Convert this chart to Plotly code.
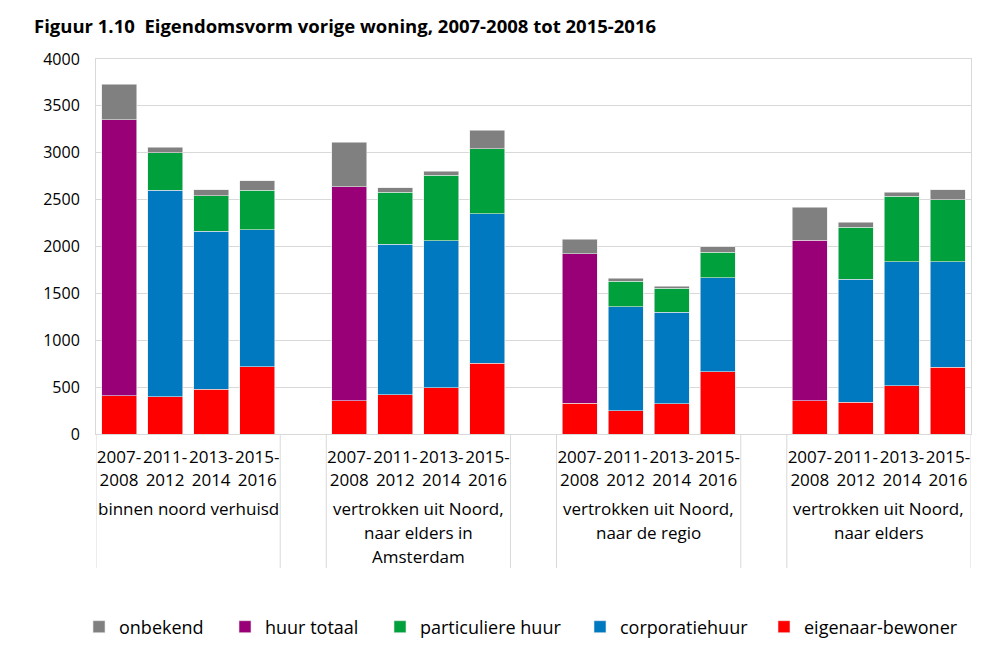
import plotly.graph_objects as go

title = "Figuur 1.10  Eigendomsvorm vorige woning, 2007-2008 tot 2015-2016"
groups = [["binnen noord verhuisd"],
          ["vertrokken uit Noord,", "naar elders in", "Amsterdam"],
          ["vertrokken uit Noord,", "naar de regio"],
          ["vertrokken uit Noord,", "naar elders"]]
periods = ["2007-2008", "2011-2012", "2013-2014", "2015-2016"]

eigenaar_bewoner = [410, 400, 480, 720, 355, 420, 495, 755, 330, 250, 325, 665, 355, 340, 515, 710]
corporatiehuur = [None, 2200, 1685, 1460, None, 1605, 1565, 1595, None, 1110, 975, 1000, None, 1310, 1320, 1125]
particuliere_huur = [None, 400, 375, 420, None, 555, 700, 695, None, 270, 255, 275, None, 555, 700, 665]
huur_totaal = [2940, None, None, None, 2285, None, None, None, 1595, None, None, None, 1710, None, None, None]
onbekend = [380, 60, 65, 100, 470, 45, 45, 195, 155, 30, 20, 60, 355, 55, 45, 105]

FONT = "Open Sans"
W, H = 996, 649          # page body adds an 8px offset
ML, MR, MT, MB = 88, 33, 51, 223
PW = W - ML - MR
PH = H - MT - MB

slot = len(periods) + 1
xpos = [g * slot + i for g in range(len(groups)) for i in range(len(periods))]
ticktext = [p.replace("-", "-<br>") for _ in groups for p in periods]

# (name, values, colour, legend left edge in px relative to plot left)
series = [
    ("eigenaar-bewoner", eigenaar_bewoner, "#ff0000", 668),
    ("corporatiehuur", corporatiehuur, "#0079c1", 484),
    ("particuliere huur", particuliere_huur, "#00a03c", 284),
    ("huur totaal", huur_totaal, "#990077", 129),
    ("onbekend", onbekend, "#808080", -17),
]

fig = go.Figure()
legends = {}
for k, (name, vals, col, lx) in enumerate(series):
    lg = "legend" if k == 0 else "legend%d" % (k + 1)
    fig.add_trace(go.Bar(x=xpos, y=vals, name=name, marker_color=col, legend=lg,
                         showlegend=True,
                         marker_line=dict(width=0.6, color="#e8e8e8")))
    legends[lg] = dict(orientation="h", x=lx / PW, xanchor="left",
                       y=-193 / PH, yanchor="middle", font=dict(family=FONT, size=18),
                       itemclick=False, itemdoubleclick=False, bgcolor="rgba(0,0,0,0)")

n_slots = len(groups) * slot - 1
shapes = []
bounds = []
for g in range(len(groups)):
    bounds += [g * slot - 0.5, g * slot + len(periods) - 0.5]
for b in sorted(set(bounds)):
    shapes.append(dict(type="line", xref="x", yref="paper", x0=b, x1=b, y0=0, y1=-134 / PH,
                       line=dict(color="#d9d9d9", width=1)))

annotations = []
for g, lines in enumerate(groups):
    for j, ln in enumerate(lines):
        annotations.append(dict(x=g * slot + (len(periods) - 1) / 2, xref="x",
                                y=-(74 + 24 * j) / PH, yref="paper",
                                text=ln, showarrow=False, yanchor="middle", xanchor="center",
                                font=dict(family=FONT, size=17, color="#000")))

fig.update_layout(
    width=W, height=H,
    barmode="stack", bargap=0.24,
    plot_bgcolor="white", paper_bgcolor="white",
    margin=dict(l=ML, r=MR, t=MT, b=MB),
    font=dict(family=FONT, size=16, color="#000"),
    showlegend=True,
    title=dict(text="<b>" + title + "</b>", x=26 / W, xanchor="left", xref="container",
               y=1 - 19 / H, yanchor="middle", yref="container",
               font=dict(family=FONT, size=18.5, color="#000")),
    xaxis=dict(range=[-0.5, n_slots - 0.5], tickvals=xpos, ticktext=ticktext,
               showgrid=False, showline=True, mirror=True, linecolor="#d9d9d9", linewidth=1,
               ticks="", ticklabelstandoff=8, tickangle=0,
               tickfont=dict(family=FONT, size=17), zeroline=False),
    yaxis=dict(range=[0, 4000], dtick=500, showgrid=True, gridcolor="#d9d9d9",
               showline=True, mirror=True, linecolor="#d9d9d9", linewidth=1, ticks="",
               ticklabelstandoff=12, tickfont=dict(family=FONT, size=16), zeroline=False),
    shapes=shapes, annotations=annotations,
    **legends,
)

fig.write_html("out.html")
